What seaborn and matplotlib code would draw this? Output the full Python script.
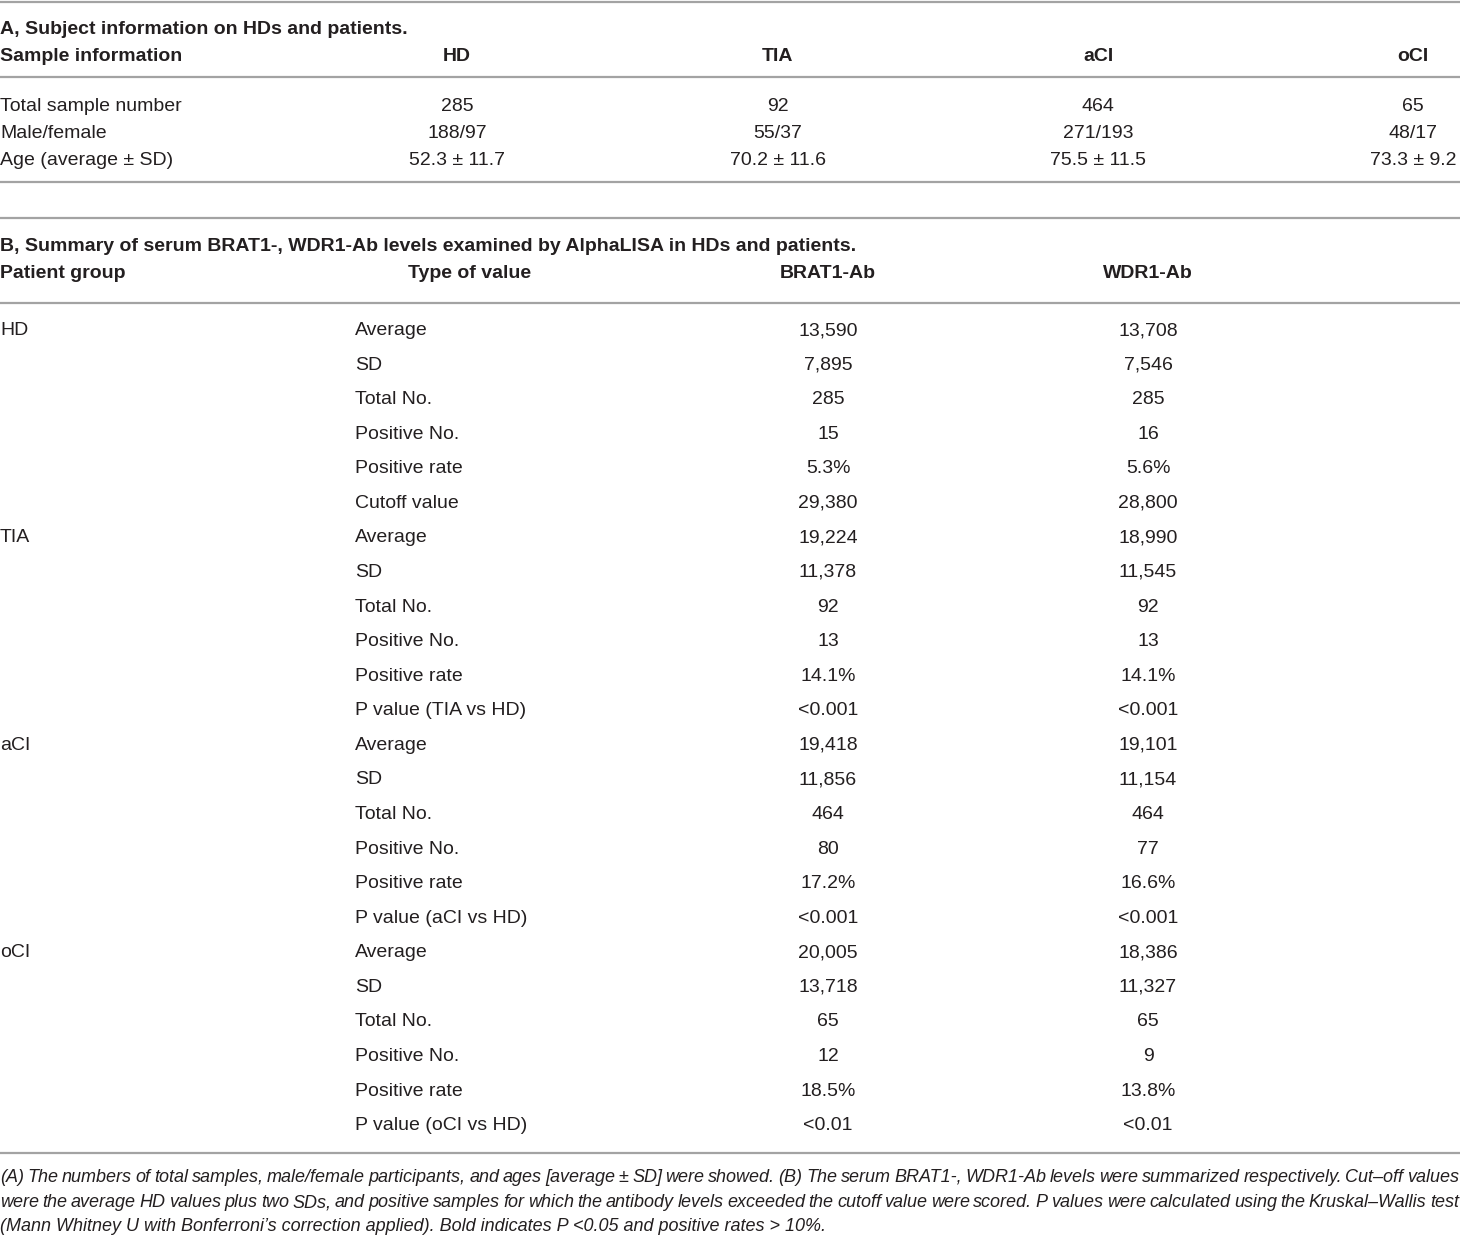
import matplotlib
matplotlib.use("Agg")
import matplotlib.pyplot as plt
import seaborn as sns

# ---- panel A data
title_a = "A, Subject information on HDs and patients."
groups_a = ["HD", "TIA", "aCI", "oCI"]
row_labels_a = ["Total sample number", "Male/female", "Age (average ± SD)"]
total_n = ["285", "92", "464", "65"]
male_female = ["188/97", "55/37", "271/193", "48/17"]
age = ["52.3 ± 11.7", "70.2 ± 11.6", "75.5 ± 11.5", "73.3 ± 9.2"]

# ---- panel B data
title_b = "B, Summary of serum BRAT1-, WDR1-Ab levels examined by AlphaLISA in HDs and patients."
header_b = ["Patient group", "Type of value", "BRAT1-Ab", "WDR1-Ab"]
patient_groups = ["HD", "TIA", "aCI", "oCI"]
value_types = {
    "HD": ["Average", "SD", "Total No.", "Positive No.", "Positive rate", "Cutoff value"],
    "TIA": ["Average", "SD", "Total No.", "Positive No.", "Positive rate", "P value (TIA vs HD)"],
    "aCI": ["Average", "SD", "Total No.", "Positive No.", "Positive rate", "P value (aCI vs HD)"],
    "oCI": ["Average", "SD", "Total No.", "Positive No.", "Positive rate", "P value (oCI vs HD)"],
}
brat1 = {
    "HD": ["13,590", "7,895", "285", "15", "5.3%", "29,380"],
    "TIA": ["19,224", "11,378", "92", "13", "14.1%", "<0.001"],
    "aCI": ["19,418", "11,856", "464", "80", "17.2%", "<0.001"],
    "oCI": ["20,005", "13,718", "65", "12", "18.5%", "<0.01"],
}
wdr1 = {
    "HD": ["13,708", "7,546", "285", "16", "5.6%", "28,800"],
    "TIA": ["18,990", "11,545", "92", "13", "14.1%", "<0.001"],
    "aCI": ["19,101", "11,154", "464", "77", "16.6%", "<0.001"],
    "oCI": ["18,386", "11,327", "65", "9", "13.8%", "<0.01"],
}

footnote = [
    "(A) The numbers of total samples, male/female participants, and ages [average ± SD] were showed. "
    "(B) The serum BRAT1-, WDR1-Ab levels were summarized respectively. Cut–off values",
    "were the average HD values plus two SDs, and positive samples for which the antibody levels "
    "exceeded the cutoff value were scored. P values were calculated using the Kruskal–Wallis test",
    "(Mann Whitney U with Bonferroni’s correction applied). Bold indicates P <0.05 and positive rates > 10%.",
]

sns.set_theme(style="white")
plt.rcParams["font.family"] = ["Liberation Sans", "DejaVu Sans"]

W, H = 1460, 1237
fig = plt.figure(figsize=(W / 100, H / 100), dpi=100)
ax = fig.add_axes([0, 0, 1, 1])
ax.set_xlim(0, W)
ax.set_ylim(H, 0)
ax.axis("off")

ink = "#231f20"
rule = "#a3a3a3"
fs = 14
base = 7  # baseline offset below row centre, px


def put(x, y, s, ha="left", bold=False):
    ax.text(x, y + base, s, fontsize=fs, fontweight="bold" if bold else "normal",
            color=ink, va="baseline", ha=ha)


for y in [1.5, 77, 182, 218, 303, 1153]:
    ax.hlines(y, 0, W, color=rule, lw=1.6)

# ---- panel A
put(0, 27, title_a, bold=True)
put(0, 54, "Sample information", bold=True)
col_x_a = [457, 778, 1098, 1413]
for g, x in zip(groups_a, col_x_a):
    put(x, 54, g, ha="center", bold=True)
rows_y_a = [104, 131, 158]
for lab, vals, y in zip(row_labels_a, [total_n, male_female, age], rows_y_a):
    put(0, y, lab)
    for v, x in zip(vals, col_x_a):
        put(x, y, v, ha="center")

# ---- panel B
put(0, 244, title_b, bold=True)
put(0, 271, header_b[0], bold=True)
put(470, 271, header_b[1], ha="center", bold=True)
put(828, 271, header_b[2], ha="center", bold=True)
put(1148, 271, header_b[3], ha="center", bold=True)

y0, dy = 328, 34.57
i = 0
for g in patient_groups:
    put(0, y0 + i * dy, g)
    for t, b, w in zip(value_types[g], brat1[g], wdr1[g]):
        y = y0 + i * dy
        put(355, y, t)
        put(828, y, b, ha="center")
        put(1148, y, w, ha="center")
        i += 1

# ---- footnote, first two lines justified to full width
fn_fs = 13.0
fn_y = [1176, 1201, 1225]
fig.canvas.draw()
renderer = fig.canvas.get_renderer()
for k, (line, y) in enumerate(zip(footnote, fn_y)):
    yb = y + 6
    if k == len(footnote) - 1:
        ax.text(0, yb, line, fontsize=fn_fs, style="italic", color=ink, va="baseline")
        continue
    words = line.split(" ")
    arts = [ax.text(0, yb, w, fontsize=fn_fs, style="italic", color=ink, va="baseline")
            for w in words]
    widths = [a.get_window_extent(renderer=renderer).width for a in arts]
    gap = (W - 1 - sum(widths)) / (len(words) - 1)
    x = 0
    for a, wd in zip(arts, widths):
        a.set_x(x)
        x += wd + gap

fig.savefig("out.png", dpi=100, facecolor="white")
